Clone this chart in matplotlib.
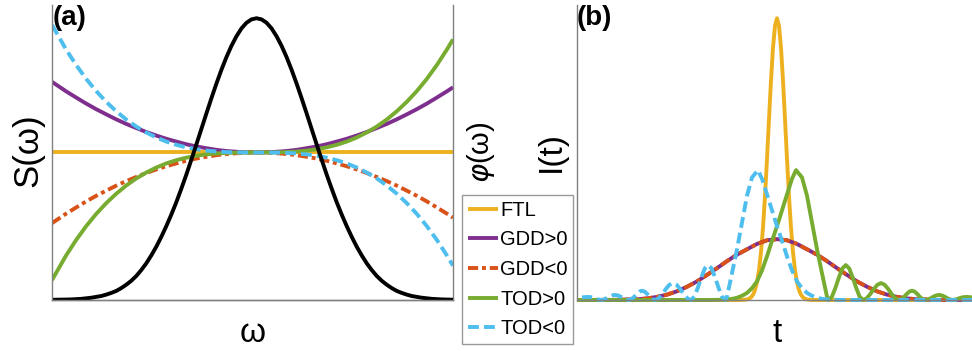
import numpy as np
import matplotlib
matplotlib.use("Agg")
import matplotlib.pyplot as plt

plt.rcParams['font.family'] = ['Liberation Sans', 'DejaVu Sans']

# ---------------- spectral domain (panel a) ----------------
# frequency grid for the spectral phase curves
omega = [-1.02, -0.95, -0.9, -0.85, -0.8, -0.75, -0.7, -0.65, -0.6, -0.55, -0.5,
         -0.45, -0.4, -0.35, -0.3, -0.25, -0.2, -0.15, -0.1, -0.05, 0.0,
         0.05, 0.1, 0.15, 0.2, 0.25, 0.3, 0.35, 0.4, 0.45, 0.5,
         0.55, 0.6, 0.65, 0.7, 0.75, 0.8, 0.85, 0.9, 0.95, 0.98]

# finer grid for the power spectrum
omega_s = [-1.02, -0.95, -0.925, -0.9, -0.875, -0.85, -0.825, -0.8, -0.775, -0.75, -0.725,
           -0.7, -0.675, -0.65, -0.625, -0.6, -0.575, -0.55, -0.525, -0.5, -0.475,
           -0.45, -0.425, -0.4, -0.375, -0.35, -0.325, -0.3, -0.275, -0.25, -0.225,
           -0.2, -0.175, -0.15, -0.125, -0.1, -0.075, -0.05, -0.025, 0.0,
           0.025, 0.05, 0.075, 0.1, 0.125, 0.15, 0.175, 0.2, 0.225, 0.25,
           0.275, 0.3, 0.325, 0.35, 0.375, 0.4, 0.425, 0.45, 0.475, 0.5,
           0.525, 0.55, 0.575, 0.6, 0.625, 0.65, 0.675, 0.7, 0.725, 0.75,
           0.775, 0.8, 0.825, 0.85, 0.875, 0.9, 0.925, 0.95, 0.98]
spectrum = [0.0008, 0.0015, 0.002, 0.003, 0.004, 0.006, 0.008, 0.011, 0.014, 0.019, 0.025,
            0.032, 0.042, 0.054, 0.068, 0.085, 0.106, 0.13, 0.158, 0.189, 0.224,
            0.262, 0.303, 0.347, 0.395, 0.445, 0.498, 0.552, 0.607, 0.662, 0.716,
            0.768, 0.817, 0.862, 0.902, 0.936, 0.964, 0.984, 0.996, 1.0,
            0.996, 0.984, 0.964, 0.936, 0.902, 0.862, 0.817, 0.768, 0.716, 0.662,
            0.607, 0.552, 0.498, 0.445, 0.395, 0.347, 0.303, 0.262, 0.224, 0.189,
            0.158, 0.13, 0.106, 0.085, 0.068, 0.054, 0.042, 0.032, 0.025, 0.019,
            0.014, 0.011, 0.008, 0.006, 0.004, 0.003, 0.002, 0.0015, 0.001]

phase_ftl = [0.0] * 41
phase_gdd_pos = [0.479, 0.415, 0.373, 0.332, 0.294, 0.259, 0.225, 0.194, 0.166, 0.139, 0.115,
                 0.093, 0.074, 0.056, 0.041, 0.029, 0.018, 0.010, 0.005, 0.001, 0.0,
                 0.001, 0.005, 0.010, 0.018, 0.029, 0.041, 0.056, 0.074, 0.093, 0.115,
                 0.139, 0.166, 0.194, 0.225, 0.259, 0.294, 0.332, 0.373, 0.415, 0.442]
phase_gdd_neg = [-v for v in phase_gdd_pos]
phase_tod_pos = [-0.865, -0.699, -0.594, -0.500, -0.417, -0.344, -0.280, -0.224, -0.176, -0.136, -0.102,
                 -0.074, -0.052, -0.035, -0.022, -0.0127, -0.0065, -0.0028, -0.0008, -0.0001, 0.0,
                 0.0001, 0.0008, 0.0028, 0.0065, 0.0127, 0.022, 0.035, 0.052, 0.074, 0.102,
                 0.136, 0.176, 0.224, 0.280, 0.344, 0.417, 0.500, 0.594, 0.699, 0.767]
phase_tod_neg = [-v for v in phase_tod_pos]

# ---------------- temporal domain (panel b) ----------------
t_ftl = [-10.0, -2.0, -1.7, -1.5, -1.4, -1.3, -1.2, -1.1, -1.0, -0.9, -0.8, -0.7, -0.6, -0.5,
         -0.4, -0.3, -0.2, -0.1, 0.0, 0.1, 0.2, 0.3, 0.4, 0.5, 0.6, 0.7, 0.8, 0.9, 1.0,
         1.1, 1.2, 1.3, 1.4, 1.5, 1.7, 2.0, 9.75]
i_ftl = [0.0, 0.0, 0.0003, 0.002, 0.0044, 0.0093, 0.0185, 0.035, 0.0625, 0.106, 0.170, 0.257,
         0.368, 0.5, 0.642, 0.779, 0.895, 0.973, 1.0, 0.973, 0.895, 0.779, 0.642, 0.5, 0.368,
         0.257, 0.170, 0.106, 0.0625, 0.035, 0.0185, 0.0093, 0.0044, 0.002, 0.0003, 0.0, 0.0]

t_gdd = [-10.0, -8.0, -7.0, -6.5, -6.0, -5.5, -5.0, -4.5, -4.0, -3.5, -3.0, -2.5, -2.0, -1.5,
         -1.0, -0.5, 0.0, 0.5, 1.0, 1.5, 2.0, 2.5, 3.0, 3.5, 4.0, 4.5, 5.0, 5.5, 6.0, 6.5,
         7.0, 8.0, 9.75]
i_gdd = [0.0, 0.0005, 0.0025, 0.0055, 0.011, 0.019, 0.031, 0.047, 0.066, 0.089, 0.113,
         0.138, 0.161, 0.18, 0.199, 0.212, 0.216, 0.212, 0.199, 0.18, 0.161, 0.138, 0.113,
         0.089, 0.066, 0.047, 0.031, 0.019, 0.011, 0.0055, 0.0025, 0.0005, 0.0]

# third-order dispersion: main lobe followed by trailing Airy-like ripples
t_tod = [-10.0, -3.5, -3.0, -2.75, -2.5, -2.25, -2.0, -1.75, -1.5, -1.25, -1.0, -0.75, -0.5,
         -0.25, 0.0, 0.25, 0.5, 0.75, 0.95, 1.25, 1.5, 1.75, 2.0, 2.25, 2.4, 2.5, 2.58,
         2.75, 2.92, 3.10, 3.27, 3.44, 3.61, 3.78, 3.96, 4.13, 4.3,
         4.48, 4.66, 4.84, 5.02, 5.2, 5.38, 5.56, 5.74, 5.92, 6.1,
         6.23, 6.36, 6.49, 6.62, 6.75, 6.88, 7.01, 7.14, 7.27, 7.4,
         7.54, 7.68, 7.82, 7.96, 8.1, 8.24, 8.38, 8.52, 8.66, 8.8,
         8.95, 9.1, 9.3, 9.5, 9.75]
i_tod = [0.0, 0.0, 0.0005, 0.001, 0.002, 0.004, 0.008, 0.015, 0.025, 0.042, 0.066, 0.105, 0.155,
         0.21, 0.262, 0.318, 0.375, 0.43, 0.461, 0.435, 0.37, 0.275, 0.18, 0.095, 0.045, 0.012, 0.0,
         0.012, 0.043, 0.081, 0.112, 0.124, 0.112, 0.081, 0.043, 0.012, 0.0,
         0.0057, 0.0207, 0.039, 0.054, 0.06, 0.054, 0.039, 0.0207, 0.0057, 0.0,
         0.0032, 0.0114, 0.0216, 0.0299, 0.033, 0.0299, 0.0216, 0.0114, 0.0032, 0.0,
         0.0017, 0.0062, 0.0118, 0.0163, 0.018, 0.0163, 0.0118, 0.0062, 0.0017, 0.0,
         0.002, 0.006, 0.010, 0.011, 0.009]
t_tod_neg = [-v for v in t_tod]
i_tod_neg = list(i_tod)

labels = ["FTL", "GDD>0", "GDD<0", "TOD>0", "TOD<0"]
colors = ["#EDB120", "#7E2F8E", "#D95319", "#77AC30", "#4DBEEE"]
LW = 2.8
DASH = (2.8, 1.3)
DASHDOT = (2.6, 1.0, 1.0, 1.0)
styles = [dict(), dict(), dict(dashes=DASHDOT), dict(), dict(dashes=DASH)]
spine_grey = "#808080"

W, H = 972, 351
fig = plt.figure(figsize=(W / 100, H / 100), dpi=100)

def frac(x0, y0, x1, y1):
    return [x0 / W, 1 - y1 / H, (x1 - x0) / W, (y1 - y0) / H]

# ---------- panel (a) ----------
axa = fig.add_axes(frac(52, 5, 453, 300))
axp = axa.twinx()
phases = [phase_ftl, phase_gdd_pos, phase_gdd_neg, phase_tod_pos, phase_tod_neg]
handles = []
for ph, lab, c, st in zip(phases, labels, colors, styles):
    h, = axp.plot(omega, ph, color=c, lw=LW, label=lab, solid_capstyle='butt',
                  dash_capstyle='butt', **st)
    handles.append(h)
axa.plot(omega_s, spectrum, color="black", lw=LW)
axa.set_zorder(axp.get_zorder() + 1)
axa.patch.set_visible(False)

axa.set_xlim(-1.02, 0.98)
axa.set_ylim(0, 1.047)
axp.set_ylim(-1, 1)
for ax in (axa, axp):
    ax.set_xticks([])
    ax.set_yticks([])
    ax.spines['top'].set_visible(False)
    for s in ('left', 'right', 'bottom'):
        ax.spines[s].set_color(spine_grey)
        ax.spines[s].set_linewidth(1.0)
axa.spines['right'].set_visible(False)
axp.spines['left'].set_visible(False)

# ---------- panel (b) ----------
axb = fig.add_axes(frac(577, 5, 972, 300))
series_b = [(t_ftl, i_ftl), (t_gdd, i_gdd), (t_gdd, i_gdd), (t_tod, i_tod), (t_tod_neg, i_tod_neg)]
for (tt, ii), c, st in zip(series_b, colors, styles):
    axb.plot(tt, ii, color=c, lw=LW, clip_on=False, solid_capstyle='butt',
             dash_capstyle='butt', solid_joinstyle='round', **st)
axb.set_xlim(-10, 9.75)
axb.set_ylim(0, 1.047)
axb.set_xticks([])
axb.set_yticks([])
axb.spines['top'].set_visible(False)
axb.spines['right'].set_visible(False)
for s in ('left', 'bottom'):
    axb.spines[s].set_color(spine_grey)
    axb.spines[s].set_linewidth(1.0)

# ---------- text ----------
def px(x, y):
    return x / W, 1 - y / H

fig.text(*px(53, 18), "(a)", fontsize=20, fontweight='bold', ha='left', va='center')
fig.text(*px(577, 18), "(b)", fontsize=20, fontweight='bold', ha='left', va='center')
fig.text(*px(28, 150), "S(ω)", fontsize=25, rotation=90, ha='center', va='center')
fig.text(*px(481, 152), r"$\varphi$(ω)", fontsize=21, rotation=90, ha='center', va='center')
fig.text(*px(551, 152), "I(t)", fontsize=24, rotation=90, ha='center', va='center')
fig.text(*px(253, 333), "ω", fontsize=24, ha='center', va='center')
fig.text(*px(777, 333), "t", fontsize=24, ha='center', va='center')

leg = fig.legend(handles, labels, loc='upper left', bbox_to_anchor=px(462, 195),
                 borderaxespad=0, fontsize=14.5, handlelength=1.5, handletextpad=0.12,
                 labelspacing=0.53, borderpad=0.28, frameon=True, fancybox=False)
leg.get_frame().set_edgecolor(spine_grey)
leg.get_frame().set_linewidth(1.0)

fig.savefig("out.png", dpi=100)
